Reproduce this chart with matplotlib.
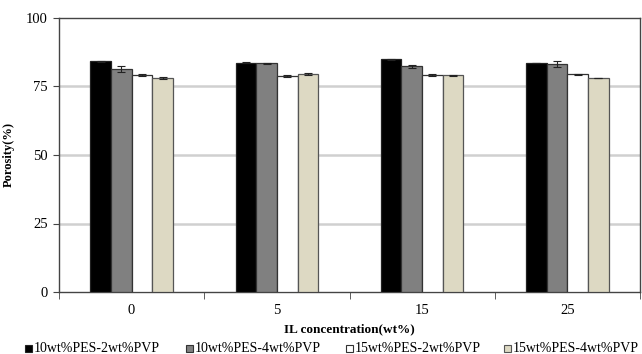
import matplotlib
matplotlib.use("Agg")
import matplotlib.pyplot as plt
import numpy as np
from matplotlib.patches import Rectangle

categories = ["0", "5", "15", "25"]
series_names = ["10wt%PES-2wt%PVP", "10wt%PES-4wt%PVP", "15wt%PES-2wt%PVP", "15wt%PES-4wt%PVP"]
s1 = [84.2, 83.6, 85.0, 83.5]
s2 = [81.3, 83.4, 82.3, 83.1]
s3 = [79.3, 78.8, 79.3, 79.4]
s4 = [78.2, 79.5, 79.1, 78.2]
e1 = [0.2, 0.2, 0.15, 0.0]
e2 = [1.0, 0.1, 0.5, 1.1]
e3 = [0.4, 0.3, 0.4, 0.2]
e4 = [0.3, 0.3, 0.2, 0.0]
y_ticks = [0, 25, 50, 75, 100]

plt.rcParams['font.family'] = ['Liberation Serif', 'DejaVu Serif']

W, H = 642, 354
fig = plt.figure(figsize=(W/100, H/100), dpi=100)
ax = fig.add_axes([59/W, 1-292/H, (640-59)/W, (292-18)/H])

colors = ["#000000", "#808080", "#ffffff", "#ddd9c3"]
edges = ["#222222", "#333333", "#333333", "#555555"]
values = [s1, s2, s3, s4]
errs = [e1, e2, e3, e4]
x = np.arange(len(categories))
w = 0.142
for i, (v, e) in enumerate(zip(values, errs)):
    pos = x + (i - 1.5) * w
    ax.bar(pos, v, width=w, color=colors[i], edgecolor=edges[i], linewidth=0.9, zorder=3, label=series_names[i])
    ax.errorbar(pos, v, yerr=e, fmt='none', ecolor="#222222", elinewidth=0.8, capsize=3, capthick=0.8, zorder=4)

ax.set_xlim(-0.5, len(categories) - 0.5)
ax.set_ylim(0, 100)
ax.set_yticks(y_ticks)
ax.set_yticklabels([str(t) for t in y_ticks], fontsize=10.5)
ax.set_xticks(x)
ax.set_xticklabels(categories, fontsize=10.5)
ax.tick_params(axis='x', length=0, pad=9)
ax.set_xticks(np.arange(-0.5, len(categories)), minor=True)
ax.tick_params(axis='x', which='minor', length=5, color="#444444", direction='out')
ax.tick_params(axis='y', length=4, color="#444444", direction='out', pad=4)
for yv in [25, 50, 75]:
    ax.axhline(yv, color="#d0d0d0", linewidth=1.8, zorder=1)
for sp in ax.spines.values():
    sp.set_color("#444444")
    sp.set_linewidth(1.0)
ax.set_ylabel("Porosity(%)", fontsize=9, fontweight='bold', labelpad=8)
ax.set_xlabel("IL concentration(wt%)", fontsize=9.5, fontweight='bold', labelpad=4)

# legend placed manually along the bottom
leg_x = [25, 186, 346, 504]
leg_y = 348
sq = 7
for i, name in enumerate(series_names):
    fig.patches.append(Rectangle((leg_x[i]/W, (H-leg_y-sq/2)/H), sq/W, sq/H,
                                 transform=fig.transFigure, facecolor=colors[i],
                                 edgecolor=edges[i], linewidth=0.8))
    fig.text((leg_x[i]+sq+2)/W, (H-leg_y)/H, name, fontsize=10, va='center', ha='left')

fig.savefig("out.png", dpi=100)
